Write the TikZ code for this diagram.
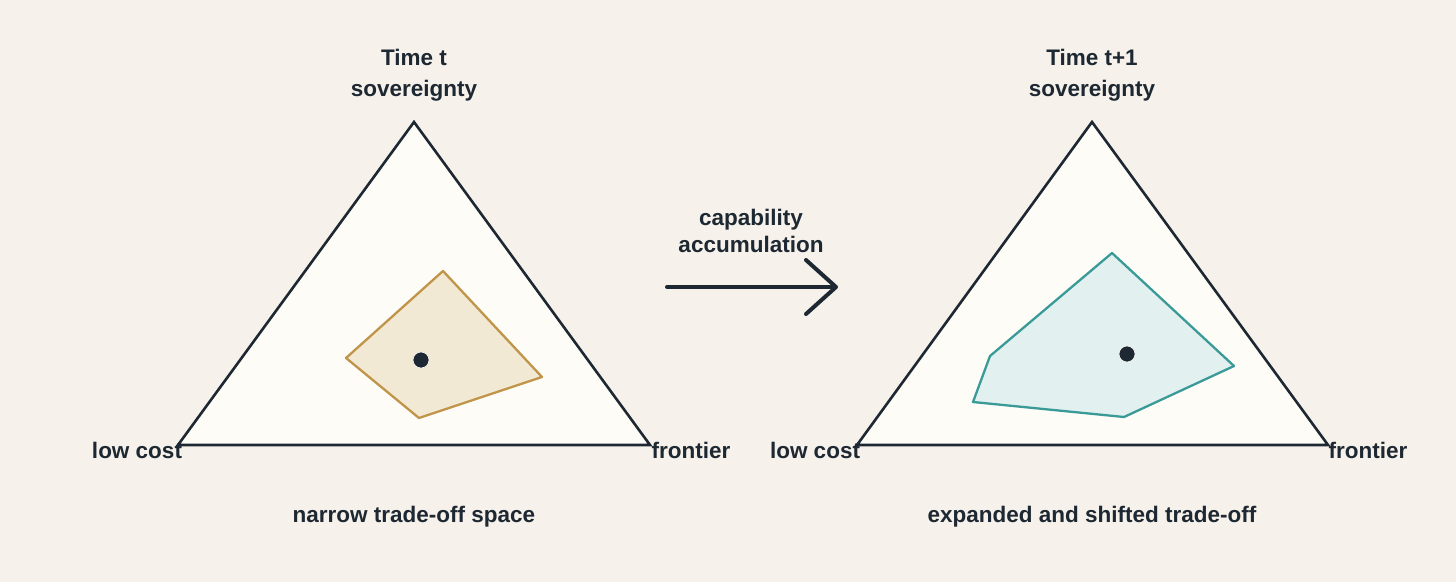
\documentclass[tikz,border=0pt]{standalone}
\usepackage{fontspec}
\setmainfont{Liberation Sans}
\usepackage{xcolor}
\usetikzlibrary{arrows.meta,positioning}
\definecolor{bg}{HTML}{F6F2EB}
\definecolor{paper}{HTML}{FDFCF7}
\definecolor{ink}{HTML}{1E2832}
\definecolor{gold}{HTML}{C0954A}
\definecolor{goldwash}{HTML}{F2E9D4}
\definecolor{teal}{HTML}{3A9A98}
\definecolor{tealwash}{HTML}{E2F1EF}
\tikzset{
  lbl/.style={font=\bfseries\fontsize{22.5}{31}\selectfont, text=ink,
              inner sep=0pt, align=center},
  tri/.style={draw=ink, line width=2.6pt, fill=paper, line join=miter},
  oldzone/.style={draw=gold, fill=goldwash, line width=2.3pt, line join=round},
  newzone/.style={draw=teal, fill=tealwash, line width=2.3pt, line join=round},
  pt/.style={circle, fill=ink, draw=paper, line width=0.6pt,
             minimum size=16pt, inner sep=0pt},
  ar/.style={-{Straight Barb[length=30pt,width=54pt,round]},
             line width=4pt, draw=ink, line cap=round},
}

\begin{document}
\begin{tikzpicture}[x=1pt, y=-1pt]
\fill[bg] (0,0) rectangle (1456,582);

% left triangle, time t
\coordinate (aL) at (414,122);
\coordinate (bL) at (178,445);
\coordinate (cL) at (650,445);
\draw[tri] (aL) -- (bL) -- (cL) -- cycle;
\draw[oldzone] (443,271) -- (542,377) -- (419,418) -- (346,358) -- cycle;
\node[pt] (posL) at (421,360) {};

\node[lbl, above=21pt of aL] (topL) {Time t\\sovereignty};
\node[lbl] (lowL) at (137,450) {low cost};
\node[lbl] (frL) at (691,450) {frontier};
\node[lbl] (capL) at (414,517) {narrow trade-off space};

% right triangle, time t+1
\coordinate (aR) at (1092,122);
\coordinate (bR) at (857,445);
\coordinate (cR) at (1328,445);
\draw[tri] (aR) -- (bR) -- (cR) -- cycle;
\draw[newzone] (1112,253) -- (1234,366) -- (1124,417) -- (973,402)
  -- (990,356) -- cycle;
\node[pt] (posR) at (1127,354) {};

\node[lbl, above=21pt of aR] (topR) {Time t+1\\sovereignty};
\node[lbl] (lowR) at (815,450) {low cost};
\node[lbl] (frR) at (1368,450) {frontier};
\node[lbl] (capR) at (1092,517) {expanded and shifted trade-off};

% shift between the two
\coordinate (arS) at (667,287);
\coordinate (arE) at (838,287);
\draw[ar] (arS) -- (arE);
\node[lbl, font=\bfseries\fontsize{22.5}{27}\selectfont] (step) at (751,231)
  {capability\\accumulation};
\end{tikzpicture}
\end{document}
